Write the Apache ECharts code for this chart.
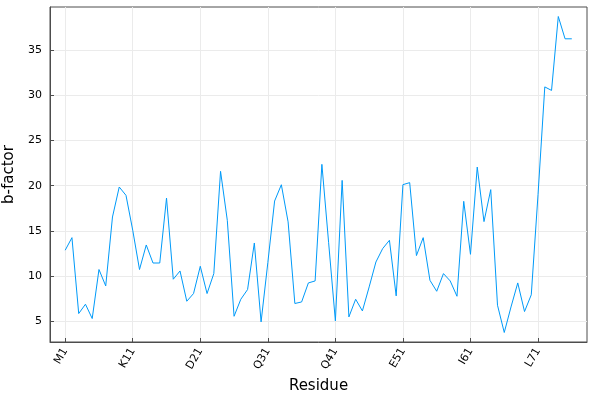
<!DOCTYPE html>
<html>
<head>
<meta charset="utf-8">
<script src="https://cdn.jsdelivr.net/npm/echarts@6/dist/echarts.min.js"></script>
<style>
html,body{margin:0;padding:0;background:#fff;}
#chart{width:594px;height:394px;}
</style>
</head>
<body>
<div id="chart"></div>
<script>
// Ubiquitin residues
const residues = ['M1','Q2','I3','F4','V5','K6','T7','L8','T9','G10',
  'K11','T12','I13','T14','L15','E16','V17','E18','P19','S20',
  'D21','T22','I23','E24','N25','V26','K27','A28','K29','I30',
  'Q31','D32','K33','E34','G35','I36','P37','P38','D39','Q40',
  'Q41','R42','L43','I44','F45','A46','G47','K48','Q49','L50',
  'E51','D52','G53','R54','T55','L56','S57','D58','Y59','N60',
  'I61','Q62','K63','E64','S65','T66','L67','H68','L69','V70',
  'L71','R72','L73','R74','G75','G76'];

const bfactor = [12.87,14.26,5.88,6.91,5.33,10.74,8.93,16.54,19.85,18.93,
  15.07,10.74,13.45,11.46,11.46,18.63,9.67,10.58,7.24,8.09,
  11.10,8.09,10.29,21.58,16.17,5.58,7.46,8.53,13.67,4.96,
  11.5,18.3,20.1,16.0,6.99,7.16,9.26,9.48,22.35,13.7,
  5.07,20.58,5.51,7.46,6.17,8.82,11.57,13.05,13.97,7.83,
  20.11,20.33,12.28,14.26,9.55,8.34,10.29,9.48,7.79,18.27,
  12.42,22.05,16.03,19.56,6.80,3.79,6.61,9.26,6.10,7.95,
  19.0,30.9,30.51,38.67,36.21,36.21];

const xTickLabels = ['M1','K11','D21','Q31','Q41','E51','I61','L71'];
const yTickValues = [5,10,15,20,25,30,35];

const xTickPos = xTickLabels.map(t => residues.indexOf(t) + 1);
const seriesData = bfactor.map((v, i) => [i + 1, v]);

const FONT = 'DejaVu Sans';
const chart = echarts.init(document.getElementById('chart'), null, {renderer: 'canvas'});
chart.setOption({
  animation: false,
  backgroundColor: '#ffffff',
  textStyle: {fontFamily: FONT},
  grid: {left: 50, right: 7, top: 7, bottom: 52, show: true, borderColor: '#4d4d4d', borderWidth: 1,
         containLabel: false, outerBoundsMode: 'none'},
  xAxis: {
    type: 'value',
    min: -1.25, max: 78.25,
    name: 'Residue',
    nameLocation: 'middle',
    nameGap: 33,
    nameTextStyle: {fontFamily: FONT, fontSize: 15, color: '#000'},
    axisLine: {show: true, onZero: false, lineStyle: {color: '#4d4d4d', width: 1}},
    axisTick: {show: true, inside: true, length: 4, customValues: xTickPos, lineStyle: {color: '#4d4d4d'}},
    axisLabel: {
      customValues: xTickPos, rotate: 60, margin: 7,
      fontFamily: FONT, fontSize: 11, color: '#000',
      formatter: v => residues[Math.round(v) - 1]
    },
    splitLine: {show: true, lineStyle: {color: '#ebebeb', width: 1}}
  },
  yAxis: {
    type: 'value',
    min: 2.74, max: 39.72,
    name: 'b-factor',
    nameLocation: 'middle',
    nameGap: 33,
    nameTextStyle: {fontFamily: FONT, fontSize: 15, color: '#000'},
    axisLine: {show: true, onZero: false, lineStyle: {color: '#4d4d4d', width: 1}},
    axisTick: {show: true, inside: true, length: 4, customValues: yTickValues, lineStyle: {color: '#4d4d4d'}},
    axisLabel: {customValues: yTickValues, margin: 8, fontFamily: FONT, fontSize: 11, color: '#000'},
    splitLine: {show: true, lineStyle: {color: '#ebebeb', width: 1}}
  },
  series: [{
    type: 'line',
    data: seriesData,
    showSymbol: false,
    lineStyle: {color: '#009af9', width: 1},
    itemStyle: {color: '#009af9'}
  }]
});
</script>
</body>
</html>
